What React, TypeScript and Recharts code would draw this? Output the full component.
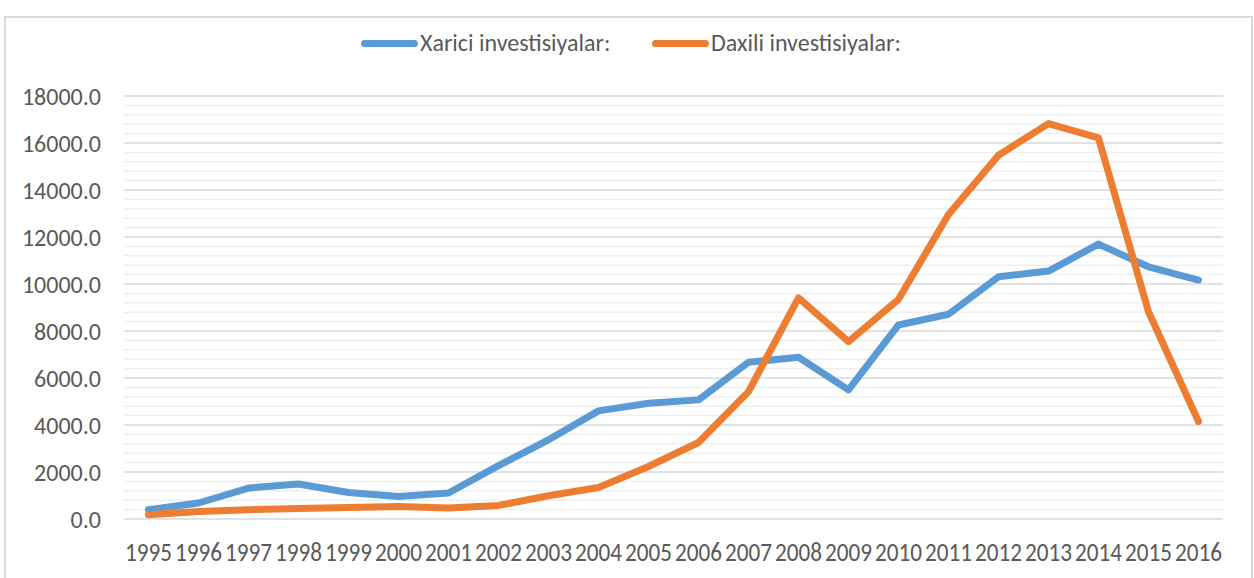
import { LineChart, Line, XAxis, YAxis, CartesianGrid, ReferenceLine } from "recharts"

const years = [
  "1995", "1996", "1997", "1998", "1999", "2000", "2001", "2002", "2003", "2004", "2005",
  "2006", "2007", "2008", "2009", "2010", "2011", "2012", "2013", "2014", "2015", "2016",
]

const xarici = [
  395, 680, 1317, 1487, 1130, 960, 1105, 2270, 3370, 4602, 4929,
  5069, 6671, 6884, 5494, 8256, 8711, 10310, 10550, 11698, 10733, 10168,
]

const daxili = [
  183, 323, 395, 450, 493, 535, 467, 578, 990, 1343, 2235,
  3255, 5422, 9410, 7546, 9348, 12960, 15480, 16826, 16215, 8820, 4147,
]

const yTicks = [0, 2000, 4000, 6000, 8000, 10000, 12000, 14000, 16000, 18000]
const minorTicks = Array.from({ length: 46 }, (_, i) => i * 400).filter((v) => v % 2000 !== 0)

const seriesNames = ["Xarici investisiyalar:", "Daxili investisiyalar:"]
const colors = ["#5b9bd5", "#ed7d31"]
const legendLeft = [361, 652]

const FONT = "Carlito, Lato, 'Open Sans', sans-serif"
const TEXT = "#595959"

const data = years.map((year, i) => ({
  year,
  xarici: xarici[i],
  daxili: daxili[i],
}))

// year labels in the original are squeezed so they sit almost edge to edge
function YearTick({ x, y, payload }: any) {
  return (
    <text
      x={x}
      y={y}
      dy="0.71em"
      textAnchor="middle"
      fill={TEXT}
      fontSize={26}
      fontFamily={FONT}
      textLength={47}
      lengthAdjust="spacingAndGlyphs"
    >
      {payload.value}
    </text>
  )
}

function LegendBox() {
  return (
    <>
      {seriesNames.map((name, i) => (
        <div key={name}>
          <div
            style={{
              position: "absolute",
              left: legendLeft[i],
              top: 40,
              width: 57,
              height: 7,
              borderRadius: 4,
              background: colors[i],
            }}
          />
          <div
            style={{
              position: "absolute",
              left: legendLeft[i] + 59,
              top: 29,
              fontFamily: FONT,
              fontSize: 24,
              lineHeight: "28px",
              color: TEXT,
              whiteSpace: "nowrap",
            }}
          >
            {name}
          </div>
        </div>
      ))}
    </>
  )
}

export default function App() {
  return (
    <div style={{ position: "absolute", left: 0, top: 0, width: 1254, height: 578, background: "#fff", overflow: "hidden" }}>
      <div
        style={{
          position: "absolute",
          left: 4,
          top: 16,
          width: 1245,
          height: 580,
          border: "2px solid #d9d9d9",
        }}
      />
      <div style={{ position: "absolute", left: 0, top: 0 }}>
        <LineChart width={1254} height={578} data={data} margin={{ top: 96, right: 31, bottom: 0, left: 0 }}>
          {minorTicks.map((v) => (
            <ReferenceLine key={v} y={v} stroke="#efefef" strokeWidth={1.5} ifOverflow="hidden" />
          ))}
          <CartesianGrid vertical={false} stroke="#d9d9d9" strokeWidth={1.5} />
          <XAxis
            dataKey="year"
            axisLine={false}
            tickLine={false}
            tickSize={0}
            tickMargin={24}
            height={59}
            interval={0}
            padding={{ left: 24.5, right: 24.5 }}
            tick={<YearTick />}
          />
          <YAxis
            domain={[0, 18000]}
            ticks={yTicks}
            width={124}
            axisLine={false}
            tickLine={false}
            tickSize={0}
            tickMargin={23}
            tickFormatter={(v: number) => v.toFixed(1)}
            tick={{ fill: TEXT, fontSize: 24, fontFamily: FONT }}
          />
          <Line
            dataKey="xarici"
            name={seriesNames[0]}
            stroke={colors[0]}
            strokeWidth={7}
            strokeLinecap="round"
            strokeLinejoin="round"
            dot={false}
            isAnimationActive={false}
          />
          <Line
            dataKey="daxili"
            name={seriesNames[1]}
            stroke={colors[1]}
            strokeWidth={7}
            strokeLinecap="round"
            strokeLinejoin="round"
            dot={false}
            isAnimationActive={false}
          />
        </LineChart>
      </div>
      <LegendBox />
    </div>
  )
}
